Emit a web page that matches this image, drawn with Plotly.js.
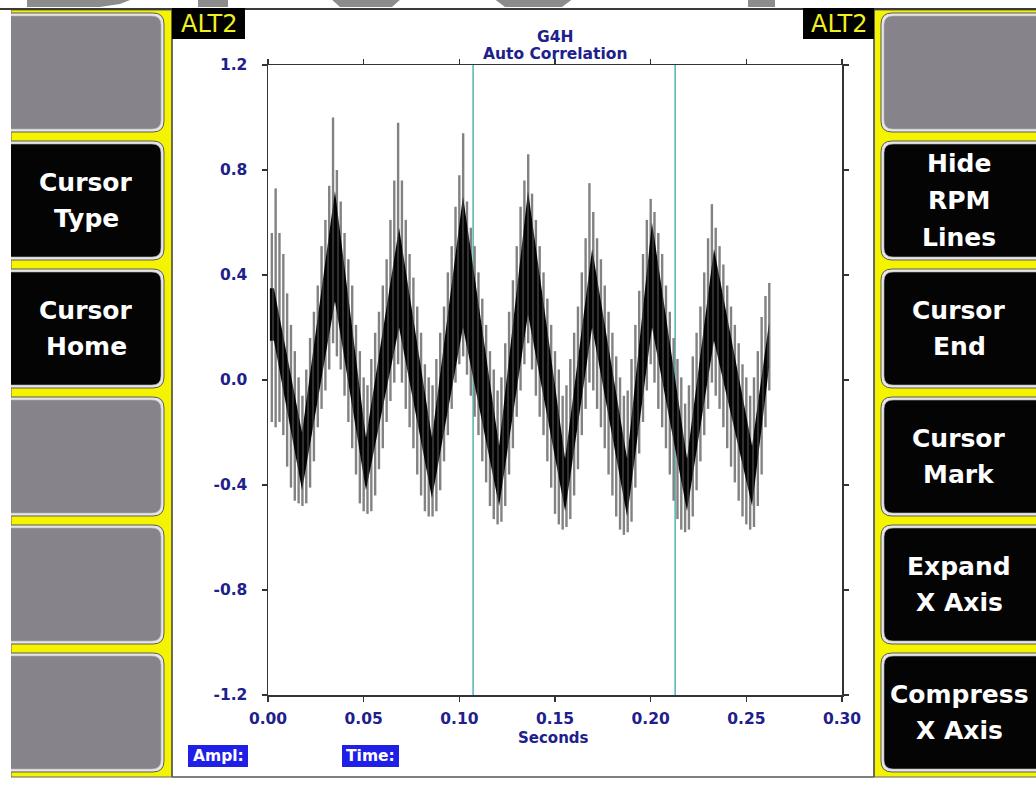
<!DOCTYPE html>
<html><head><meta charset="utf-8">
<script src="https://cdn.plot.ly/plotly-3.0.1.min.js"></script>
<style>html,body{margin:0;padding:0;background:#fff;overflow:hidden}#chart{width:1036px;height:789px}</style>
</head><body><div id="chart"></div>
<script>
// ---------------- data ----------------
const xTickVals = [0, 0.05, 0.10, 0.15, 0.20, 0.25, 0.30];
const xTickText = ['0.00', '0.05', '0.10', '0.15', '0.20', '0.25', '0.30'];
const yTickVals = [-1.2, -0.8, -0.4, 0, 0.4, 0.8, 1.2];
const yTickText = ['-1.2', '-0.8', '-0.4', '0.0', '0.4', '0.8', '1.2'];
const cursorTimes = [0.1072, 0.2128];

// gray signal strokes: time, low end, high end
const strokeT = [0.002,0.004,0.006,0.008,0.010,0.012,0.014,0.016,0.018,0.020,
 0.022,0.024,0.026,0.028,0.030,0.032,0.034,0.036,0.038,0.040,
 0.042,0.044,0.046,0.048,0.050,0.052,0.054,0.056,0.058,0.060,
 0.062,0.064,0.066,0.068,0.070,0.072,0.074,0.076,0.078,0.080,
 0.082,0.084,0.086,0.088,0.090,0.092,0.094,0.096,0.098,0.100,
 0.102,0.104,0.106,0.108,0.110,0.112,0.114,0.116,0.118,0.120,
 0.122,0.124,0.126,0.128,0.130,0.132,0.134,0.136,0.138,0.140,
 0.142,0.144,0.146,0.148,0.150,0.152,0.154,0.156,0.158,0.160,
 0.162,0.164,0.166,0.168,0.170,0.172,0.174,0.176,0.178,0.180,
 0.182,0.184,0.186,0.188,0.190,0.192,0.194,0.196,0.198,0.200,
 0.202,0.204,0.206,0.208,0.210,0.212,0.214,0.216,0.218,0.220,
 0.222,0.224,0.226,0.228,0.230,0.232,0.234,0.236,0.238,0.240,
 0.242,0.244,0.246,0.248,0.250,0.252,0.254,0.256,0.258,0.260,0.262];
const strokeLo = [-0.16,-0.18,-0.16,-0.21,-0.33,-0.41,-0.46,-0.47,-0.48,-0.47,
 -0.41,-0.31,-0.18,-0.11,-0.04,0.04,0.14,0.09,0.04,-0.06,
 -0.16,-0.26,-0.36,-0.47,-0.50,-0.51,-0.50,-0.44,-0.34,-0.26,
 -0.16,-0.08,-0.01,0.06,-0.01,-0.11,-0.18,-0.26,-0.36,-0.44,
 -0.50,-0.52,-0.52,-0.50,-0.42,-0.31,-0.21,-0.11,-0.01,0.06,
 0.09,0.02,-0.06,-0.14,-0.21,-0.31,-0.39,-0.48,-0.53,-0.55,
 -0.54,-0.48,-0.36,-0.26,-0.14,-0.04,0.06,0.14,0.04,-0.06,
 -0.14,-0.21,-0.31,-0.41,-0.51,-0.55,-0.57,-0.56,-0.53,-0.44,
 -0.34,-0.21,-0.11,-0.01,-0.04,-0.11,-0.18,-0.26,-0.36,-0.44,
 -0.52,-0.57,-0.59,-0.58,-0.54,-0.41,-0.28,-0.16,-0.04,0.06,
 -0.01,-0.11,-0.18,-0.26,-0.36,-0.46,-0.53,-0.57,-0.58,-0.57,
 -0.52,-0.42,-0.31,-0.21,-0.11,-0.01,-0.06,-0.11,-0.18,-0.26,
 -0.33,-0.39,-0.46,-0.52,-0.55,-0.57,-0.56,-0.48,-0.36,-0.18,-0.04];
const strokeHi = [0.56,0.73,0.56,0.48,0.33,0.21,0.11,0.01,-0.06,0.04,
 0.16,0.26,0.36,0.51,0.61,0.74,1.00,0.80,0.68,0.56,
 0.46,0.36,0.21,0.11,0.01,-0.02,0.08,0.18,0.26,0.36,
 0.46,0.61,0.76,0.98,0.76,0.61,0.48,0.39,0.28,0.18,
 0.06,0.01,-0.02,0.08,0.18,0.28,0.41,0.51,0.66,0.78,
 0.94,0.68,0.58,0.51,0.41,0.31,0.21,0.11,0.04,-0.04,
 0.01,0.14,0.26,0.38,0.51,0.66,0.76,0.86,0.71,0.61,
 0.51,0.41,0.31,0.21,0.11,0.04,-0.06,-0.02,0.08,0.18,
 0.28,0.41,0.54,0.75,0.64,0.54,0.46,0.36,0.26,0.18,
 0.09,0.01,-0.06,-0.04,0.08,0.21,0.34,0.48,0.61,0.69,
 0.64,0.56,0.48,0.36,0.26,0.16,0.08,0.01,-0.09,-0.02,
 0.09,0.18,0.28,0.41,0.54,0.67,0.58,0.51,0.44,0.36,
 0.28,0.21,0.14,0.06,0.01,-0.06,0.01,0.11,0.24,0.32,0.37];

// dense black core band: time, upper edge, lower edge
const coreT  = [0.001,0.0031,0.0178,0.0350,0.0512,0.0685,0.0857,0.1019,0.1208,0.1359,0.1553,0.1694,0.1877,0.2007,0.2190,0.2331,0.2530,0.2619];
const coreHi = [0.35,0.35,-0.20,0.72,-0.22,0.58,-0.22,0.70,-0.25,0.72,-0.30,0.50,-0.30,0.60,-0.30,0.50,-0.25,0.22];
const coreLo = [0.15,0.15,-0.42,0.30,-0.42,0.20,-0.45,0.20,-0.48,0.25,-0.50,0.20,-0.52,0.20,-0.50,0.15,-0.48,0.05];

const titleLines = ['G4H', 'Auto Correlation'];
const xTitle = 'Seconds';
const altLabel = 'ALT2';
const readouts = ['Ampl:', 'Time:'];
const leftButtons = [[], ['Cursor', 'Type'], ['Cursor', 'Home'], [], [], []];
const rightButtons = [[], ['Hide', 'RPM', 'Lines'], ['Cursor', 'End'], ['Cursor', 'Mark'], ['Expand', 'X Axis'], ['Compress', 'X Axis']];

// ---------------- geometry helpers ----------------
const L = 268, T = 65, W = 574, H = 630;
const px = x => (x - L) / W;
const py = y => (T + H - y) / H;
const P = (x, y) => px(x).toFixed(5) + ',' + py(y).toFixed(5);
function rect(x0, y0, x1, y1, fill, lc, lw) {
  return {type: 'rect', xref: 'paper', yref: 'paper', x0: px(x0), x1: px(x1), y0: py(y1), y1: py(y0),
    fillcolor: fill, line: {color: lc || fill, width: lw || 0}, layer: 'above'};
}
function rrect(x0, y0, x1, y1, r, fill, lc, lw) {
  const d = 'M' + P(x0 + r, y0) + ' L' + P(x1 - r, y0) + ' Q' + P(x1, y0) + ' ' + P(x1, y0 + r) +
    ' L' + P(x1, y1 - r) + ' Q' + P(x1, y1) + ' ' + P(x1 - r, y1) + ' L' + P(x0 + r, y1) +
    ' Q' + P(x0, y1) + ' ' + P(x0, y1 - r) + ' L' + P(x0, y0 + r) + ' Q' + P(x0, y0) + ' ' + P(x0 + r, y0) + ' Z';
  return {type: 'path', xref: 'paper', yref: 'paper', path: d, fillcolor: fill,
    line: {color: lc || fill, width: lw || 0}, layer: 'above'};
}
function poly(pts, fill) {
  return {type: 'path', xref: 'paper', yref: 'paper', layer: 'above', fillcolor: fill, line: {width: 0},
    path: 'M' + pts.map(p => P(p[0], p[1])).join(' L') + ' Z'};
}
function lineShape(x0, y0, x1, y1, c, w) {
  return {type: 'line', xref: 'paper', yref: 'paper', x0: px(x0), x1: px(x1), y0: py(y0), y1: py(y1),
    line: {color: c, width: w}, layer: 'above'};
}
function ann(text, x, y, font, xanchor) {
  return {text: text, xref: 'paper', yref: 'paper', x: px(x), y: py(y), showarrow: false,
    xanchor: xanchor || 'center', yanchor: 'middle', font: font};
}

// ---------------- traces ----------------
const sx = [], sy = [];
strokeT.forEach((t, i) => { sx.push(t, t, null); sy.push(strokeLo[i], strokeHi[i], null); });
const cx = [], cy = [];
cursorTimes.forEach(t => { cx.push(t, t, null); cy.push(-1.2, 1.2, null); });

const traces = [
  {x: cx, y: cy, mode: 'lines', line: {color: '#5cb8b8', width: 1.6}, hoverinfo: 'skip', showlegend: false},
  {x: sx, y: sy, mode: 'lines', line: {color: '#828282', width: 2.4}, hoverinfo: 'skip', showlegend: false},
  {x: coreT.concat(coreT.slice().reverse()), y: coreHi.concat(coreLo.slice().reverse()),
   mode: 'lines', fill: 'toself', fillcolor: '#050505',
   fillpattern: {shape: '|', fgcolor: '#030303', bgcolor: '#5a5a5a', size: 5, solidity: 0.8},
   line: {color: 'rgba(0,0,0,0)', width: 0}, hoverinfo: 'skip', showlegend: false}
];

// ---------------- decoration ----------------
const shapes = [];
const anns = [];
const YEL = '#f4f400';
// watermark remnants along the top edge
const WM = '#8c8c8c';
shapes.push(poly([[27, -2], [135, -2], [120, 4], [100, 7], [27, 7]], WM));
shapes.push(rect(198, -2, 228, 7, WM));
shapes.push(poly([[330, -2], [402, -2], [392, 7], [340, 7]], WM));
shapes.push(poly([[493, -2], [574, -2], [562, 7], [505, 7]], WM));
shapes.push(rect(748, -2, 775, 7, WM));
// side panels
shapes.push(rect(11, 10, 172, 777, YEL, '#666', 1));
shapes.push(rect(874, 10, 1040, 777, YEL, '#666', 1));
const tops = [13, 141, 269, 397, 525, 653];
const BH = 119;
const btnFont = {family: 'DejaVu Sans', size: 25, color: '#ffffff', weight: 'bold'};
function addButtons(labels, x0, x1, cxText) {
  labels.forEach((lines, i) => {
    const t = tops[i];
    shapes.push(rrect(x0, t, x1, t + BH, 11, '#e6e6e6', '#5a5a5a', 1));
    shapes.push(rrect(x0 + 3, t + 3, x1 - 3, t + BH - 3, 9, lines.length ? '#040404' : '#86838a', '#b0b0b0', 0.6));
    lines.forEach((s, j) => {
      anns.push(ann(s, cxText, t + 59.5 + (j - (lines.length - 1) / 2) * 36.7, btnFont));
    });
  });
}
addButtons(leftButtons, -12, 164, 86);
addButtons(rightButtons, 881, 1060, 959);
shapes.push(rect(0, 0, 11, 789, '#ffffff'));
// centre frame edges
shapes.push(lineShape(0, 9, 1036, 9, '#3a3a3a', 2));
shapes.push(lineShape(172, 10, 172, 777, '#555', 1.5));
shapes.push(lineShape(874, 10, 874, 777, '#555', 1.5));
shapes.push(lineShape(172, 777, 874, 777, '#555', 1.5));
// ALT2 tags
shapes.push(rect(172, 8, 245, 39, '#000000'));
shapes.push(rect(803, 8, 874, 39, '#000000'));
const altFont = {family: 'DejaVu Sans', size: 24, color: '#f0f020'};
anns.push(ann(altLabel, 208.5, 24, altFont));
anns.push(ann(altLabel, 838.5, 24, altFont));
// readout boxes
shapes.push(rect(188, 745, 248, 767, '#1f1fe8'));
shapes.push(rect(342, 745, 399, 767, '#1f1fe8'));
const roFont = {family: 'DejaVu Sans', size: 15.5, color: '#ffffff', weight: 'bold'};
anns.push(ann(readouts[0], 218, 756, roFont));
anns.push(ann(readouts[1], 370.5, 756, roFont));
// titles
const NAVY = '#20208c';
const tFont = {family: 'DejaVu Sans', size: 15.5, color: NAVY, weight: 'bold'};
anns.push(ann(titleLines[0], 555, 37.5, tFont));
anns.push(ann(titleLines[1], 555, 53.5, tFont));
anns.push(ann(xTitle, 553, 737.5, {family: 'DejaVu Sans', size: 15, color: NAVY, weight: 'bold'}));

const tickFont = {family: 'DejaVu Sans', size: 15.5, color: NAVY, weight: 'bold'};
const axisCommon = {showline: true, linecolor: '#333', linewidth: 1.5, mirror: 'ticks', ticks: 'outside',
  ticklen: 5, tickwidth: 1.2, tickcolor: '#333', showgrid: false, zeroline: false, tickfont: tickFont, fixedrange: true};

const layout = {
  width: 1036, height: 789, autosize: false,
  margin: {l: L, r: 1036 - L - W, t: T, b: 789 - T - H, pad: 0},
  paper_bgcolor: '#ffffff', plot_bgcolor: '#ffffff', showlegend: false,
  xaxis: Object.assign({}, axisCommon, {range: [0, 0.30], tickmode: 'array', tickvals: xTickVals, ticktext: xTickText, ticklabelstandoff: 4}),
  yaxis: Object.assign({}, axisCommon, {range: [-1.2, 1.2], tickmode: 'array', tickvals: yTickVals, ticktext: yTickText, ticklabelstandoff: 11}),
  shapes: shapes, annotations: anns
};
Plotly.newPlot('chart', traces, layout, {displayModeBar: false, staticPlot: true});
</script></body></html>
